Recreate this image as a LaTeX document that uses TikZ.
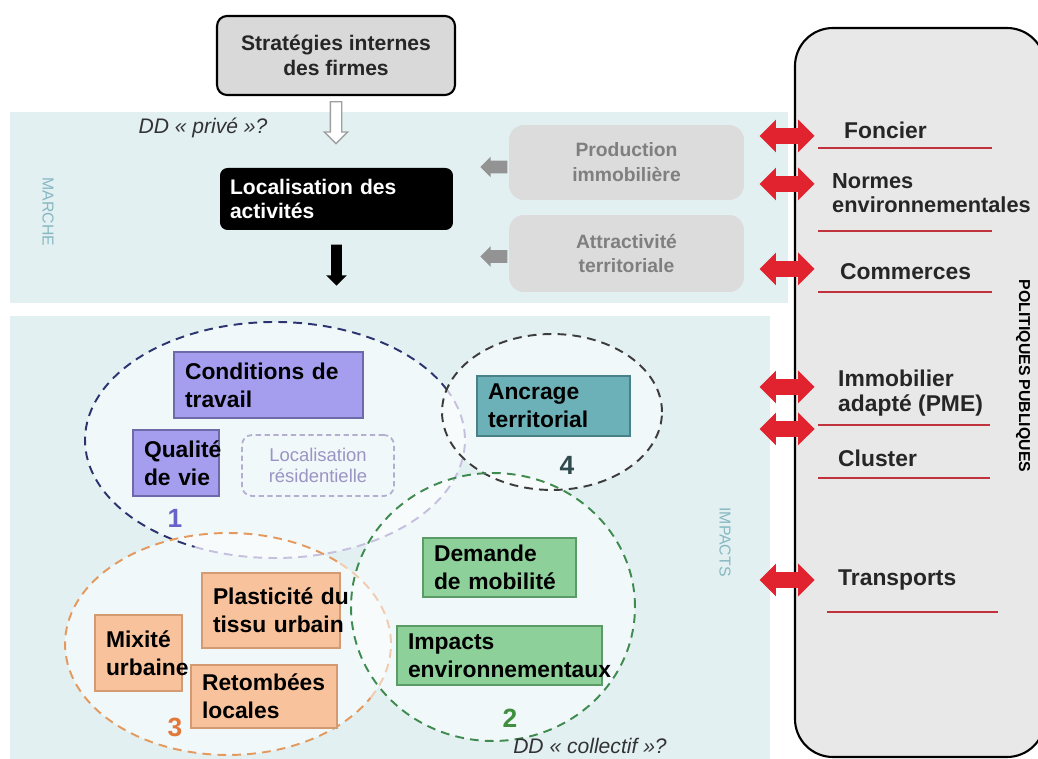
\documentclass[tikz,border=0pt]{standalone}
\usepackage{fontspec}
\setmainfont{Liberation Sans}
\usepackage{xcolor}
\usetikzlibrary{arrows,shapes,positioning}
\definecolor{bandcol}{HTML}{E2F0F2}
\definecolor{polgray}{HTML}{E8E8E8}
\definecolor{stratgray}{HTML}{D9D9D9}
\definecolor{softgray}{HTML}{DCDCDC}
\definecolor{softtext}{HTML}{7F7F7F}
\definecolor{polred}{HTML}{E1222F}
\definecolor{rulered}{HTML}{C0333C}
\definecolor{violetfill}{HTML}{A59EEE}
\definecolor{violetline}{HTML}{6E69A8}
\definecolor{tealfill}{HTML}{6DB1B8}
\definecolor{tealline}{HTML}{4A8087}
\definecolor{greenfill}{HTML}{8DD09A}
\definecolor{greenline}{HTML}{5B9B66}
\definecolor{orangefill}{HTML}{F8C39C}
\definecolor{orangeline}{HTML}{D49A72}
\definecolor{navyring}{HTML}{2C3470}
\definecolor{lightring}{HTML}{C4C0DE}
\definecolor{grayring}{HTML}{3C3C3C}
\definecolor{greenring}{HTML}{3F8B4F}
\definecolor{orangering}{HTML}{E49A5E}
\definecolor{paleorange}{HTML}{F0CDB0}
\definecolor{labelteal}{HTML}{86B7C1}
\definecolor{locrestext}{HTML}{9A94C4}
\definecolor{locresline}{HTML}{B4AFCF}
\definecolor{numviolet}{HTML}{6A62C9}
\definecolor{numgreen}{HTML}{3F8F3F}
\definecolor{numorange}{HTML}{E2773A}
\definecolor{numslate}{HTML}{2F4B4E}
\tikzset{
	basic/.style = {rectangle, align=left, inner xsep=0.22cm, inner ysep=0pt, font=\fontsize{13}{15.8}\selectfont\bfseries},
	root/.style = {rectangle, draw, fill=stratgray, rounded corners=0.2cm, line width=1.2pt, align=center, minimum width=4.76cm, minimum height=1.58cm, font=\fontsize{12}{14.2}\selectfont\bfseries, text=black!85},
	blackbox/.style = {rectangle, fill=black, text=white, rounded corners=0.15cm, align=left, text width=4.26cm, inner xsep=0.2cm, minimum height=1.24cm, font=\fontsize{12}{13.8}\selectfont\bfseries},
	market/.style = {rectangle, fill=softgray, text=softtext, rounded corners=0.3cm, align=center, minimum width=4.7cm, font=\fontsize{11}{14.2}\selectfont\bfseries},
	group 1/.style = {basic, fill=violetfill, draw=violetline, line width=0.8pt},
	group 2/.style = {basic, fill=greenfill, draw=greenline, line width=0.8pt},
	group 3/.style = {basic, fill=orangefill, draw=orangeline, line width=0.8pt},
	group 4/.style = {basic, fill=tealfill, draw=tealline, line width=0.8pt},
	locres/.style = {rectangle, draw=locresline, dash pattern=on 3pt off 2pt, line width=1pt, rounded corners=0.2cm, text=locrestext, align=center, font=\fontsize{10.5}{12.4}\selectfont},
	ring/.style = {dash pattern=on 5pt off 3.5pt, line width=1.1pt},
	num/.style = {font=\fontsize{15}{15}\selectfont\bfseries},
	dd/.style = {font=\fontsize{12}{14}\selectfont\itshape, text=black!80},
	side label/.style = {font=\fontsize{9}{10}\selectfont, text=labelteal},
	policy label/.style = {anchor=west, align=left, font=\fontsize{13}{14}\selectfont\bfseries, text=black!85},
	hollow arrow/.style = {single arrow, draw=gray!75, fill=white, line width=0.8pt, inner sep=0.1cm, minimum height=0.84cm, single arrow head extend=0.12cm},
	solid arrow/.style = {single arrow, fill=black, inner sep=0.1cm, minimum height=0.82cm, single arrow head extend=0.1cm},
	gray arrow/.style = {single arrow, fill=gray!85, inner sep=0.12cm, minimum height=0.54cm, single arrow head extend=0.08cm},
	red arrow/.style = {double arrow, fill=polred, inner sep=0.15cm, minimum height=1.1cm, double arrow head extend=0.17cm},
	rule/.style = {draw=rulered, line width=1.3pt}
}
\begin{document}
\begin{tikzpicture}[x=0.02cm, y=-0.02cm, >=latex]
	\useasboundingbox (0,0) rectangle (1038,759);
	\clip (0,0) rectangle (1038,759);
	\fill[bandcol] (10,112) rectangle (788,303);
	\fill[bandcol] (10,316) rectangle (770,759);
	\draw[fill=polgray, line width=1.2pt, rounded corners=0.76cm] (795,28) rectangle (1045,757);

	\fill[white, opacity=0.55] (275,440) ellipse [x radius=3.8cm, y radius=2.36cm];
	\fill[white, opacity=0.55] (552,412) ellipse [x radius=2.2cm, y radius=1.56cm];
	\fill[white, opacity=0.55] (493,607) ellipse [x radius=2.84cm, y radius=2.68cm];
	\fill[white, opacity=0.55] (228,644) ellipse [x radius=3.26cm, y radius=2.22cm];
	\draw[ring, draw=navyring] (275,440) ++(25:3.8cm and 2.36cm) arc[start angle=25, end angle=245, x radius=3.8cm, y radius=2.36cm];
	\draw[ring, draw=lightring] (275,440) ++(-115:3.8cm and 2.36cm) arc[start angle=-115, end angle=25, x radius=3.8cm, y radius=2.36cm];
	\draw[ring, draw=grayring] (552,412) ellipse [x radius=2.2cm, y radius=1.56cm];
	\draw[ring, draw=greenring] (493,607) ellipse [x radius=2.84cm, y radius=2.68cm];
	\draw[ring, draw=orangering] (228,644) ++(48:3.26cm and 2.22cm) arc[start angle=48, end angle=331, x radius=3.26cm, y radius=2.22cm];
	\draw[ring, draw=paleorange] (228,644) ++(-29:3.26cm and 2.22cm) arc[start angle=-29, end angle=48, x radius=3.26cm, y radius=2.22cm];

	\node[root] (strat) at (336,55.5) {Stratégies internes\\des firmes};
	\node[hollow arrow, rotate=-90, anchor=west] (prive) at ([yshift=-0.1cm]strat.south) {};
	\node[dd] (ddprive) at (203,128) {DD « privé »?};
	\node[blackbox] (loc) at (336.5,199) {Localisation des\\activités};
	\node[solid arrow, rotate=-90, anchor=west] (impact) at ([yshift=-0.28cm]loc.south) {};
	\node[market, minimum height=1.5cm] (prod) at (626.5,162.5) {Production\\immobilière};
	\node[market, minimum height=1.54cm] (attr) at (626.5,253.5) {Attractivité\\territoriale};
	\node[gray arrow, rotate=180, anchor=west] (prodarrow) at ([xshift=-0.02cm, yshift=-0.09cm]prod.west) {};
	\node[gray arrow, rotate=180, anchor=west] (attrarrow) at ([xshift=-0.02cm, yshift=-0.06cm]attr.west) {};
	\node[side label, rotate=-90] (marche) at (48,212) {MARCHE};
	\node[side label, rotate=-90] (impacts) at (725,542) {IMPACTS};

	\node[group 1, text width=3.34cm, minimum height=1.32cm] (cond) at (268.5,385) {Conditions de\\travail};
	\node[group 1, text width=1.28cm, minimum height=1.32cm] (qual) at (176,463) {\mbox{Qualité}\\\mbox{de vie}};
	\node[locres, minimum width=3.04cm, minimum height=1.22cm] (resid) at (318,465.5) {Localisation\\résidentielle};
	\node[num, text=numviolet] (n1) at (175,518) {1};
	\node[group 4, text width=2.62cm, minimum height=1.2cm] (ancr) at (553.5,406) {Ancrage\\territorial};
	\node[num, text=numslate] (n4) at (567,465) {4};
	\node[group 2, text width=2.62cm, minimum height=1.18cm] (dem) at (499.5,567.5) {Demande\\\mbox{de mobilité}};
	\node[group 2, text width=3.66cm, minimum height=1.18cm] (env) at (499.5,655.5) {Impacts\\\mbox{environnementaux}};
	\node[num, text=numgreen] (n2) at (510,718) {2};
	\node[group 3, text width=2.32cm, minimum height=1.5cm] (plast) at (271,610.5) {\mbox{Plasticité du}\\\mbox{tissu urbain}};
	\node[group 3, text width=1.30cm, minimum height=1.52cm] (mix) at (138.5,653) {\mbox{Mixité}\\\mbox{urbaine}};
	\node[group 3, text width=2.48cm, minimum height=1.26cm] (ret) at (264,696.5) {Retombées\\locales};
	\node[num, text=numorange] (n3) at (175,727) {3};
	\node[dd] (ddcoll) at (590,746) {DD « collectif »?};

	\node[red arrow] (foncierarrow) at (787,136) {};
	\node[red arrow] (normesarrow) at (787,184) {};
	\node[red arrow] (commarrow) at (787,269) {};
	\node[red arrow] (immoarrow) at (787,387) {};
	\node[red arrow] (clusterarrow) at (787,429) {};
	\node[red arrow] (transarrow) at (787,580) {};
	\node[policy label] (foncier) at (838,130) {Foncier};
	\node[policy label, font=\fontsize{12.4}{14}\selectfont\bfseries] (normes) at (826,193) {Normes\\environnementales};
	\node[policy label] (commerces) at (834,272) {Commerces};
	\node[policy label] (immo) at (832,393) {Immobilier\\adapté (PME)};
	\node[policy label] (cluster) at (832,458) {Cluster};
	\node[policy label] (transports) at (832,580) {Transports};
	\draw[rule] (818,148) -- (992,148);
	\draw[rule] (818,231) -- (992,231);
	\draw[rule] (818,292) -- (992,292);
	\draw[rule] (818,425) -- (990,425);
	\draw[rule] (818,478) -- (990,478);
	\draw[rule] (827,612) -- (998,612);
	\node[rotate=-90, font=\fontsize{9}{10}\selectfont\bfseries] (politiques) at (1023,376) {POLITIQUES PUBLIQUES};
\end{tikzpicture}
\end{document}
